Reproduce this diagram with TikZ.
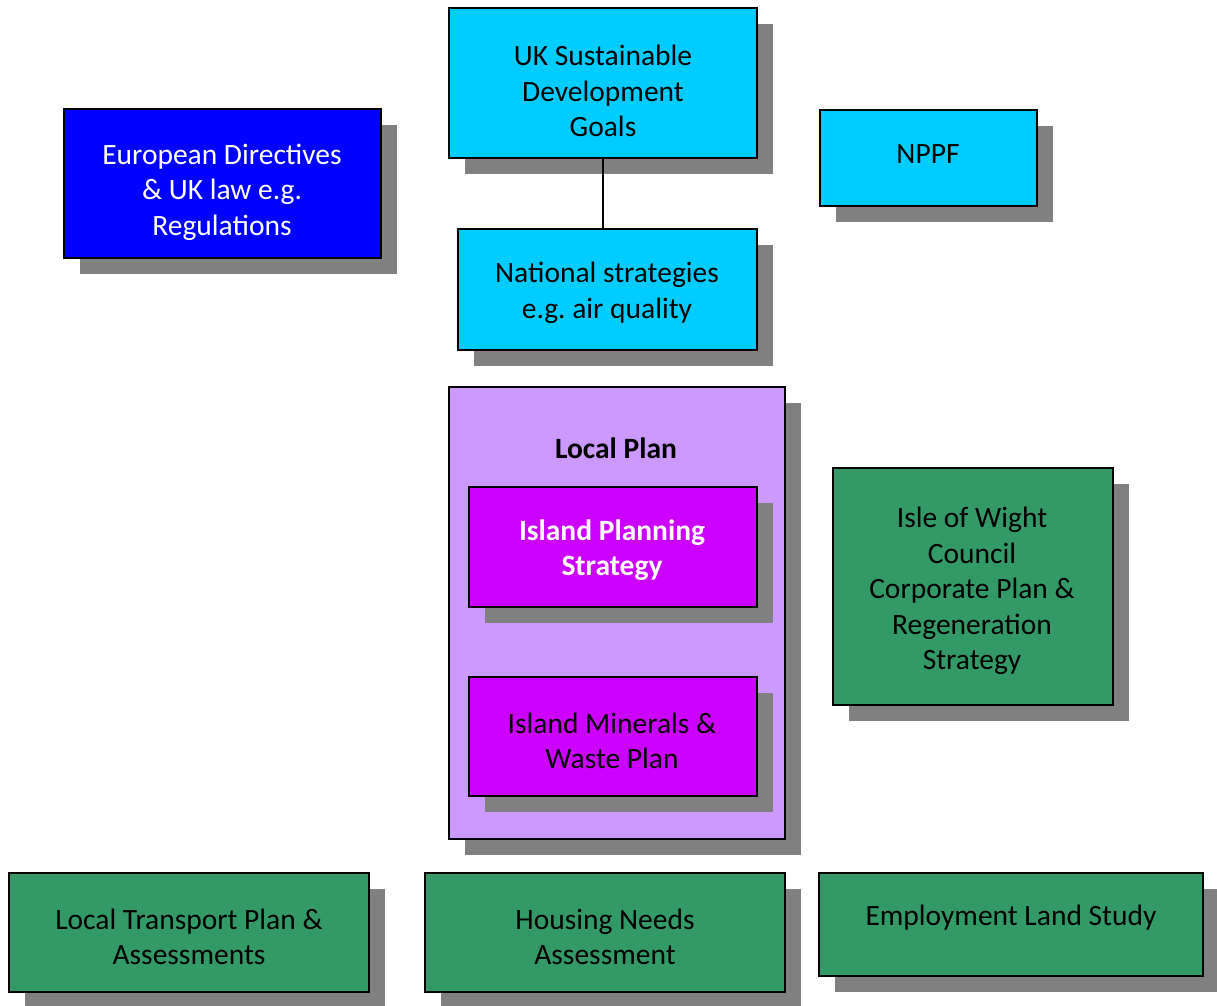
\documentclass[tikz,border=0pt]{standalone}
\usepackage{fontspec}
\setmainfont{Carlito}
\frenchspacing
\usetikzlibrary{shadows}
\definecolor{cyanc}{HTML}{00CCFF}
\definecolor{bluec}{HTML}{0000FF}
\definecolor{lilac}{HTML}{CC99FF}
\definecolor{magc}{HTML}{CC00FF}
\definecolor{greenc}{HTML}{339966}
\definecolor{shadowc}{HTML}{808080}
\tikzset{
  box/.style={draw=black, line width=1.6pt, rectangle, inner sep=0pt,
    drop shadow={shadow xshift=16pt, shadow yshift=-16pt, fill=shadowc, opacity=1}},
  txt/.style={align=center, inner sep=0pt, font=\fontsize{29.5}{35.5}\selectfont}
}
\begin{document}
\begin{tikzpicture}[x=1pt,y=-1pt]
\useasboundingbox (0,0) rectangle (1217,1005);
% top
\node[box, fill=cyanc, minimum width=308pt, minimum height=150pt] (uksdg) at (603,83) {};
\node[txt] (uksdgT) at (603,91) {UK Sustainable\\Development\\Goals};
\node[box, fill=cyanc, minimum width=299pt, minimum height=121pt] (nat) at (607.5,289.5) {};
\node[txt] (natT) at (607,293) {National strategies\\e.g. air quality};
\draw[line width=1.6pt] (uksdg.south) -- (uksdg.south |- nat.north);
\node[box, fill=bluec, minimum width=317pt, minimum height=149pt] (eur) at (222.5,183.5) {};
\node[txt, text=white] (eurT) at (222,192) {European Directives\\\& UK law e.g.\\Regulations};
\node[box, fill=cyanc, minimum width=217pt, minimum height=96pt] (nppf) at (928.5,158) {};
\node[txt] (nppfT) at (928,154) {NPPF};
% local plan
\node[box, fill=lilac, minimum width=336pt, minimum height=452pt] (lp) at (617,613) {};
\node[txt, font=\fontsize{29.5}{35.5}\selectfont\bfseries] (lpT) at (616,448) {Local Plan};
\node[box, fill=magc, minimum width=288pt, minimum height=120pt] (ips) at (613,547) {};
\node[txt, text=white, font=\fontsize{29.5}{35.5}\selectfont\bfseries] (ipsT) at (612,550) {Island Planning\\Strategy};
\node[box, fill=magc, minimum width=288pt, minimum height=119pt] (mw) at (613,736.5) {};
\node[txt] (mwT) at (612,741) {Island Minerals \&\\Waste Plan};
% right
\node[box, fill=greenc, minimum width=280pt, minimum height=237pt] (iow) at (973,586.5) {};
\node[txt] (iowT) at (972,591) {Isle of Wight\\Council\\Corporate Plan \&\\Regeneration\\Strategy};
% bottom
\node[box, fill=greenc, minimum width=360pt, minimum height=119pt] (ltp) at (189,932.5) {};
\node[txt] (ltpT) at (189,937) {Local Transport Plan \&\\Assessments};
\node[box, fill=greenc, minimum width=360pt, minimum height=119pt] (hna) at (605,932.5) {};
\node[txt] (hnaT) at (605,937) {Housing Needs\\Assessment};
\node[box, fill=greenc, minimum width=384pt, minimum height=103pt] (els) at (1011,924.5) {};
\node[txt] (elsT) at (1011,918) {Employment Land Study};
\end{tikzpicture}
\end{document}
